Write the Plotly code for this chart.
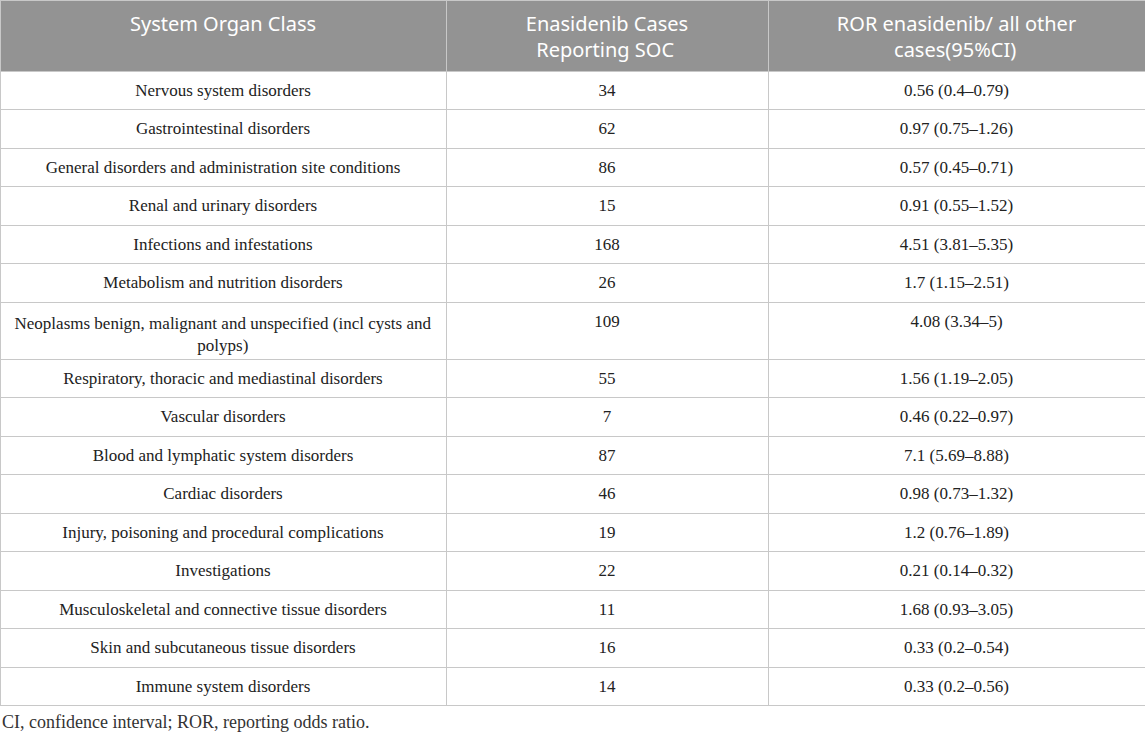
import plotly.graph_objects as go

headers = ["System Organ Class", "Enasidenib Cases<br>\u00a0\u00a0Reporting SOC",
           "ROR enasidenib/ all other<br>" + "\u00a0" * 11 + "cases(95%CI)"]
soc = [
    "Nervous system disorders",
    "Gastrointestinal disorders",
    "General disorders and administration site conditions",
    "Renal and urinary disorders",
    "Infections and infestations",
    "Metabolism and nutrition disorders",
    "Neoplasms benign, malignant and unspecified (incl cysts and<br>" + "\u00a0" * 43 + "polyps)",
    "Respiratory, thoracic and mediastinal disorders",
    "Vascular disorders",
    "Blood and lymphatic system disorders",
    "Cardiac disorders",
    "Injury, poisoning and procedural complications",
    "Investigations",
    "Musculoskeletal and connective tissue disorders",
    "Skin and subcutaneous tissue disorders",
    "Immune system disorders",
]
cases = [34, 62, 86, 15, 168, 26, 109, 55, 7, 87, 46, 19, 22, 11, 16, 14]
ror = [
    "0.56 (0.4–0.79)", "0.97 (0.75–1.26)", "0.57 (0.45–0.71)", "0.91 (0.55–1.52)",
    "4.51 (3.81–5.35)", "1.7 (1.15–2.51)", "4.08 (3.34–5)", "1.56 (1.19–2.05)",
    "0.46 (0.22–0.97)", "7.1 (5.69–8.88)", "0.98 (0.73–1.32)", "1.2 (0.76–1.89)",
    "0.21 (0.14–0.32)", "1.68 (0.93–3.05)", "0.33 (0.2–0.54)", "0.33 (0.2–0.56)",
]
footnote = "CI, confidence interval; ROR, reporting odds ratio."

W, H = 1145, 733
line_col = "#c8c8c8"
clear = "rgba(0,0,0,0)"
col_w = [446, 322, 377]
head_h, row_h = 71, 38.5
body_font = dict(family="Liberation Serif", size=17, color="#222222")
head_font = dict(family="Noto Sans", size=20, color="white")

# grid layer: fills and rules, blank text (keeps the two-line row as tall as the text)
blank = ["\u00a0<br>\u00a0" if "<br>" in s else "" for s in soc]
grid = go.Table(
    columnwidth=col_w,
    header=dict(values=["", "", ""], fill_color="#939393", line_color=line_col,
                font=head_font, height=head_h),
    cells=dict(values=[blank, [""] * len(soc), [""] * len(soc)],
               fill_color="white", line_color=line_col, font=body_font, height=row_h),
    domain=dict(x=[0, 1], y=[(H - 716) / H, 1]),
)

# text layer: same rows, nudged down so the text sits in the middle of each cell
text = go.Table(
    columnwidth=col_w,
    header=dict(values=["<br>" + headers[0], headers[1], headers[2]],
                fill_color=clear, line_color=clear, font=head_font,
                align="center", height=head_h + 2),
    cells=dict(values=[soc, cases, ror], fill_color=clear, line_color=clear,
               font=body_font, align="center", height=row_h),
    domain=dict(x=[0, 1], y=[(H - 718) / H, 1 - 2 / H]),
)

fig = go.Figure([grid, text])

fig.add_annotation(
    text=footnote, x=0, y=(H - 722) / H, xref="paper", yref="paper",
    xanchor="left", yanchor="middle", showarrow=False,
    font=dict(family="Liberation Serif", size=18, color="#333333"),
)

fig.update_layout(width=W, height=H, margin=dict(l=0, r=0, t=0, b=0),
                  paper_bgcolor="white", plot_bgcolor="white")
fig.write_html("out.html", config={"displayModeBar": False},
               post_script="document.body.style.margin='0px';")
